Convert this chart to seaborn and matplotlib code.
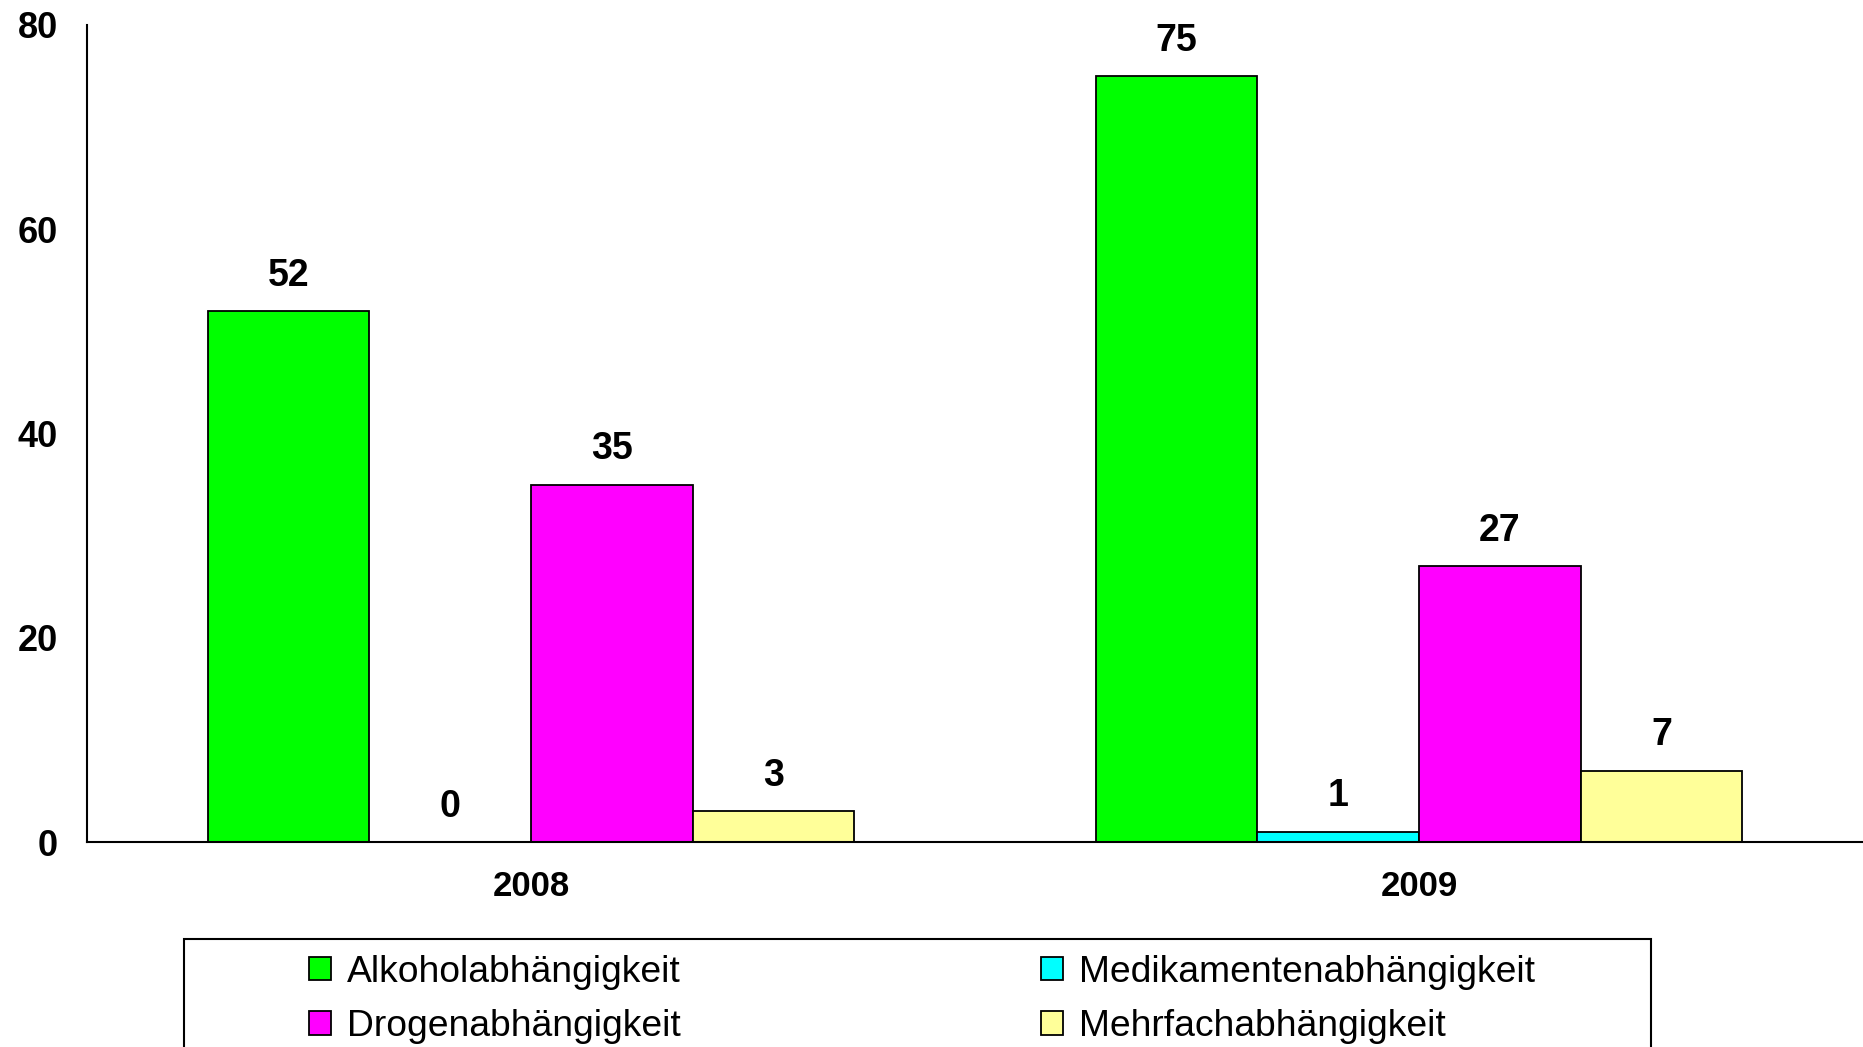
import matplotlib
matplotlib.use("Agg")
import matplotlib.pyplot as plt
from matplotlib.patches import Rectangle
from matplotlib.ticker import FixedLocator, MultipleLocator
import pandas as pd
import seaborn as sns

# Data
years = ["2008", "2009"]
categories = ["Alkoholabhängigkeit", "Drogenabhängigkeit",
              "Medikamentenabhängigkeit", "Mehrfachabhängigkeit"]
alkohol = [52, 75]
medikamente = [0, 1]
drogen = [35, 27]
mehrfach = [3, 7]
bar_order = ["Alkoholabhängigkeit", "Medikamentenabhängigkeit",
             "Drogenabhängigkeit", "Mehrfachabhängigkeit"]
colors = {"Alkoholabhängigkeit": "#00FF00",
          "Medikamentenabhängigkeit": "#00FFFF",
          "Drogenabhängigkeit": "#FF00FF",
          "Mehrfachabhängigkeit": "#FFFF99"}

series = {"Alkoholabhängigkeit": alkohol,
          "Medikamentenabhängigkeit": medikamente,
          "Drogenabhängigkeit": drogen,
          "Mehrfachabhängigkeit": mehrfach}
df = pd.DataFrame([
    {"Jahr": y, "Kategorie": k, "Anzahl": v[i]}
    for k, v in series.items() for i, y in enumerate(years)
])

sns.set_style("white")
plt.rcParams["font.family"] = ["Liberation Sans", "DejaVu Sans"]
plt.rcParams["text.color"] = "black"
plt.rcParams["xtick.color"] = "black"
plt.rcParams["ytick.color"] = "black"
plt.rcParams["axes.labelcolor"] = "black"

W, H = 1863, 1047
fig = plt.figure(figsize=(W / 100, H / 100), dpi=100)
ax = fig.add_axes([87 / W, 1 - 842 / H, 1 - 87 / W, (842 - 25) / H])

sns.barplot(data=df, x="Jahr", y="Anzahl", hue="Kategorie",
            order=years, hue_order=bar_order, palette=colors,
            width=0.728, edgecolor="black", linewidth=1.3,
            saturation=1, ax=ax, legend=True)

for cont in ax.containers:
    ax.bar_label(cont, fmt="%d", padding=12.5, fontsize=27,
                 fontweight="bold", color="black")

ax.set_ylim(0, 80)
ax.set_xlim(-0.5, 1.5)
ax.yaxis.set_major_locator(MultipleLocator(20))
ax.set_xlabel("")
ax.set_ylabel("")
ax.xaxis.set_minor_locator(FixedLocator([-0.5, 0.5, 1.5]))
ax.tick_params(axis="x", which="major", length=0, pad=20,
               labelsize=25, labelcolor="black")
ax.tick_params(axis="x", which="minor", length=9, width=1.5,
               direction="out", color="black")
ax.tick_params(axis="y", length=9, width=1.5, direction="out",
               color="black", pad=12, labelsize=26, labelcolor="black")
for lab in ax.get_xticklabels() + ax.get_yticklabels():
    lab.set_fontweight("bold")

sns.despine(ax=ax, top=True, right=True)
for side in ("left", "bottom"):
    ax.spines[side].set_linewidth(1.5)
    ax.spines[side].set_color("black")

handles, labels = ax.get_legend_handles_labels()
ax.legend_.remove()
lookup = dict(zip(labels, handles))
leg = fig.legend([lookup[c] for c in categories], categories,
                 loc="upper left", ncol=2, mode="expand", frameon=False,
                 bbox_to_anchor=(309 / W, 1 - 965 / H,
                                 (1535 - 309) / W, 0.01),
                 borderpad=0, fontsize=26.8, handlelength=0.6,
                 handleheight=0.6, handletextpad=0.42, labelspacing=0.52,
                 borderaxespad=0)
for t in leg.get_texts():
    t.set_color("black")

fig.add_artist(Rectangle((184 / W, -0.05), (1651 - 184) / W,
                         0.05 + 1 - 939 / H, transform=fig.transFigure,
                         fill=False, edgecolor="black", linewidth=1.5,
                         clip_on=False))

fig.savefig("out.png", dpi=100, facecolor="white")
